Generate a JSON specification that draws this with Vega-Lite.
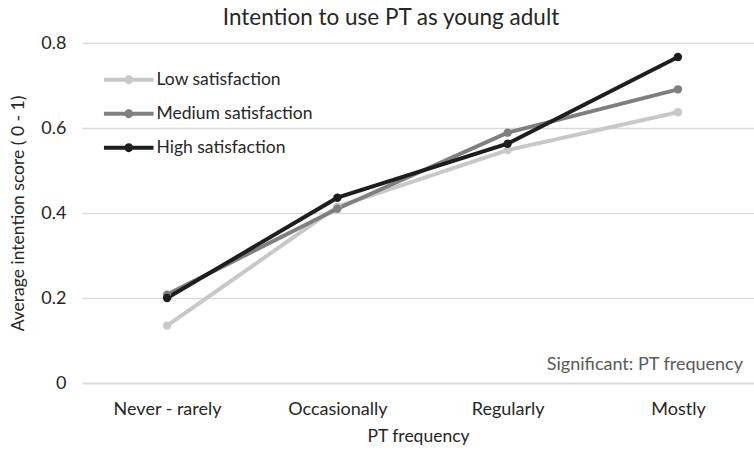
{
  "$schema": "https://vega.github.io/schema/vega-lite/v6.json",
  "width": 672,
  "height": 340,
  "autosize": {"type": "none"},
  "padding": {"left": 82, "top": 43, "right": 0, "bottom": 70},
  "background": "white",
  "config": {
    "font": "Lato",
    "view": {"stroke": null},
    "axis": {"labelFont": "Lato", "titleFont": "Lato"}
  },
  "title": {
    "text": "Intention to use PT as young adult",
    "fontSize": 22.5,
    "fontWeight": "normal",
    "color": "#262626",
    "anchor": "middle",
    "frame": "group",
    "dx": -27,
    "offset": 5
  },
  "datasets": {
    "lines": [
      {"freq": "Never - rarely", "group": "Low satisfaction", "score": 0.135},
      {"freq": "Occasionally", "group": "Low satisfaction", "score": 0.415},
      {"freq": "Regularly", "group": "Low satisfaction", "score": 0.548},
      {"freq": "Mostly", "group": "Low satisfaction", "score": 0.637},
      {"freq": "Never - rarely", "group": "Medium satisfaction", "score": 0.208},
      {"freq": "Occasionally", "group": "Medium satisfaction", "score": 0.41},
      {"freq": "Regularly", "group": "Medium satisfaction", "score": 0.589},
      {"freq": "Mostly", "group": "Medium satisfaction", "score": 0.691},
      {"freq": "Never - rarely", "group": "High satisfaction", "score": 0.2},
      {"freq": "Occasionally", "group": "High satisfaction", "score": 0.436},
      {"freq": "Regularly", "group": "High satisfaction", "score": 0.563},
      {"freq": "Mostly", "group": "High satisfaction", "score": 0.767}
    ],
    "note": [
      {"freq": "Mostly", "score": 0.042, "label": "Significant: PT frequency"}
    ]
  },
  "layer": [
    {
      "data": {"name": "lines"},
      "mark": {"type": "line", "strokeWidth": 4},
      "encoding": {
        "x": {
          "field": "freq",
          "type": "nominal",
          "sort": ["Never - rarely", "Occasionally", "Regularly", "Mostly"],
          "scale": {"type": "point", "padding": 0.473, "align": 0.528},
          "axis": {
            "title": "PT frequency",
            "labelAngle": 0,
            "labelFontSize": 18,
            "labelColor": "#262626",
            "labelPadding": 17,
            "ticks": false,
            "domain": true,
            "domainColor": "#d9d9d9",
            "domainWidth": 1.5,
            "grid": false,
            "titleFontSize": 17.5,
            "titleFontWeight": "normal",
            "titleColor": "#262626",
            "titlePadding": 9
          }
        },
        "y": {
          "field": "score",
          "type": "quantitative",
          "scale": {"domain": [0, 0.8]},
          "axis": {
            "title": "Average intention score ( 0 - 1)",
            "values": [0, 0.2, 0.4, 0.6, 0.8],
            "format": ".1~f",
            "labelFontSize": 18,
            "labelColor": "#262626",
            "labelPadding": 16,
            "ticks": false,
            "domain": false,
            "grid": true,
            "gridColor": "#d9d9d9",
            "gridWidth": 1.5,
            "titleFontSize": 17.5,
            "titleFontWeight": "normal",
            "titleColor": "#262626",
            "titlePadding": 13
          }
        },
        "color": {
          "field": "group",
          "type": "nominal",
          "sort": ["Low satisfaction", "Medium satisfaction", "High satisfaction"],
          "scale": {
            "domain": ["Low satisfaction", "Medium satisfaction", "High satisfaction"],
            "range": ["#c8c8c8", "#7f7f7f", "#1e1e1e"]
          },
          "legend": {
            "title": null,
            "orient": "none",
            "legendX": 38,
            "legendY": 28,
            "padding": 0,
            "symbolType": "M -3.1 -0.25 L 3.1 -0.25 L 3.1 0.25 L -3.1 0.25 Z M -0.55 0 A 0.55 0.55 0 1 1 0.55 0 A 0.55 0.55 0 1 1 -0.55 0 Z",
            "symbolSize": 256,
            "symbolStrokeWidth": 0,
            "symbolOpacity": 1,
            "labelFontSize": 17.5,
            "labelColor": "#262626",
            "labelOffset": 19,
            "rowPadding": 15,
            "encode": {
              "symbols": {
                "update": {
                  "fill": {"scale": "color", "field": "value"},
                  "strokeWidth": {"value": 0}
                }
              }
            }
          }
        },
        "order": {"field": "group"}
      }
    },
    {
      "data": {"name": "lines"},
      "mark": {"type": "point", "filled": true, "size": 70, "opacity": 1},
      "encoding": {
        "x": {"field": "freq", "type": "nominal", "sort": ["Never - rarely", "Occasionally", "Regularly", "Mostly"]},
        "y": {"field": "score", "type": "quantitative"},
        "color": {
          "field": "group",
          "type": "nominal",
          "sort": ["Low satisfaction", "Medium satisfaction", "High satisfaction"]
        }
      }
    },
    {
      "data": {"name": "note"},
      "mark": {"type": "text", "align": "right", "baseline": "middle", "dx": 65, "fontSize": 18, "color": "#595959"},
      "encoding": {
        "x": {"field": "freq", "type": "nominal", "sort": ["Never - rarely", "Occasionally", "Regularly", "Mostly"]},
        "y": {"field": "score", "type": "quantitative"},
        "text": {"field": "label"}
      }
    }
  ]
}
